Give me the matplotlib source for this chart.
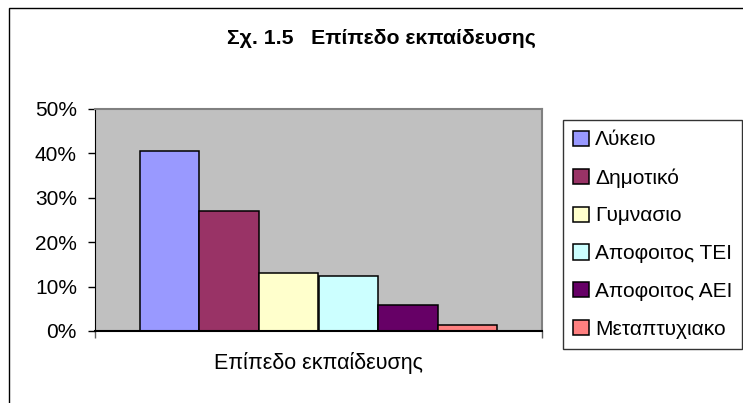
import matplotlib as mpl

mpl.use("Agg")

import matplotlib.pyplot as plt
import matplotlib.patches as mpatches
from matplotlib.ticker import PercentFormatter

plt.rcParams["font.family"] = ["Liberation Sans", "DejaVu Sans"]

title = "Σχ. 1.5   Επίπεδο εκπαίδευσης"
category = "Επίπεδο εκπαίδευσης"
levels = ["Λύκειο", "Δημοτικό", "Γυμνασιο", "Αποφοιτος ΤΕΙ",
          "Αποφοιτος ΑΕΙ", "Μεταπτυχιακο"]
shares = [0.405, 0.271, 0.131, 0.123, 0.0595, 0.014]
colors = ["#9999FF", "#993366", "#FFFFCC", "#CCFFFF", "#660066", "#FF8080"]
yticks = [0, 0.1, 0.2, 0.3, 0.4, 0.5]


def main(output_filename):
    fig = plt.figure(figsize=(7.43, 4.03), dpi=100)

    # chart frame, running off the right and bottom edges
    frame = mpatches.Rectangle((9 / 743, -0.1), 1.0, 1 - 8 / 403 + 0.1,
                               transform=fig.transFigure, fill=False,
                               edgecolor="black", linewidth=1.0)
    fig.add_artist(frame)

    ax = fig.add_axes([95 / 743, 72 / 403, 447 / 743, 222 / 403])
    ax.set_facecolor("#C0C0C0")

    # one category, six series, Excel-style 150% gap
    n = len(shares)
    w = 1 / (n + 1.5)
    start = 0.75 * w
    for i, (lab, val, col) in enumerate(zip(levels, shares, colors)):
        ax.bar(start + w * (i + 0.5), val, width=w, color=col,
               edgecolor="black", linewidth=1.1, label=lab, zorder=2)

    ax.set_xlim(0, 1)
    ax.set_ylim(0, 0.5)
    ax.set_yticks(yticks)
    ax.yaxis.set_major_formatter(PercentFormatter(1.0, decimals=0))
    ax.set_xticks([0, 1])
    ax.set_xticklabels([])
    ax.tick_params(axis="both", direction="out", length=5, width=1,
                   labelsize=15, pad=8, color="black")
    ax.tick_params(axis="x", colors="#606060")

    for side in ("top", "right"):
        ax.spines[side].set_color("#808080")
        ax.spines[side].set_linewidth(1.5)
    ax.spines["left"].set_color("black")
    ax.spines["bottom"].set_color("black")
    ax.spines["bottom"].set_linewidth(1.5)

    ax.set_xlabel(category, fontsize=15.5, labelpad=2)

    fig.text(381 / 743, 1 - 38 / 403, title, ha="center", va="center",
             fontsize=15.3, fontweight="bold")

    leg = fig.legend(loc="upper left",
                     bbox_to_anchor=(563 / 743, 1 - 120 / 403, 179 / 743, 0),
                     mode="expand", fontsize=15, frameon=True, fancybox=False,
                     handlelength=0.75, handleheight=0.75, handletextpad=0.3,
                     labelspacing=0.9, borderpad=0.5, borderaxespad=0)
    leg.get_frame().set_edgecolor("black")
    leg.get_frame().set_linewidth(1.0)

    fig.savefig(output_filename, dpi=100)


if __name__ == "__main__":
    main("out.png")
